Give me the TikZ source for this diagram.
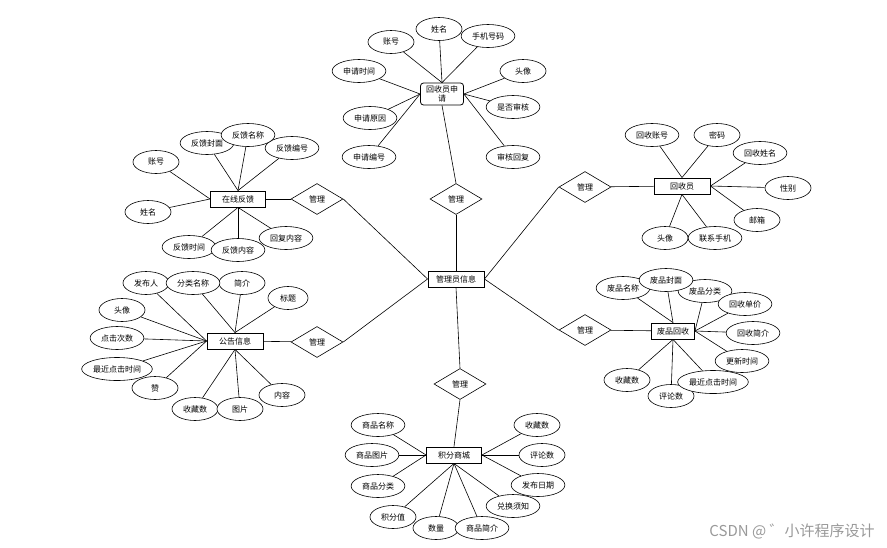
\documentclass[tikz,border=0pt]{standalone}
\usepackage{fontspec}
\newfontfamily\cjk{Noto Sans CJK SC}
\usetikzlibrary{shapes.geometric}

\begin{document}
\begin{tikzpicture}[
    x=1pt, y=-1pt,
    link/.style={draw=black, line width=0.6pt},
    base/.style={
        font=\cjk\fontsize{8pt}{9.6pt}\selectfont,
        align=center,
        fill=white,
        draw=black
    },
    entity/.style={base, rectangle, minimum width=56pt, minimum height=16pt, inner sep=1pt, line width=0.9pt},
    apply/.style={base, rectangle, rounded corners=3pt, minimum width=43pt, minimum height=22pt, inner sep=1pt, line width=0.8pt},
    attr/.style={base, ellipse, minimum width=46pt, minimum height=23pt, inner xsep=3pt, inner ysep=0pt, line width=0.6pt},
    relation/.style={base, diamond, minimum width=52pt, minimum height=31pt, inner sep=0pt, line width=0.6pt}
]
\useasboundingbox (0,0) rectangle (887,547);

\node[entity] (admin) at (456,279) {管理员信息};

\node[relation] (mTop) at (456,199) {管理};
\node[relation] (mFb) at (317,199) {管理};
\node[relation] (mNt) at (317,342) {管理};
\node[relation] (mRc) at (585,187) {管理};
\node[relation] (mWs) at (585,330) {管理};
\node[relation] (mMall) at (460,384) {管理};

\node[apply] (apply) at (442,94) {回收员申\\请};
\node[entity, minimum width=55pt] (fb) at (238,199) {在线反馈};
\node[entity] (rec) at (682,186) {回收员};
\node[entity] (notice) at (235,341) {公告信息};
\node[entity, minimum width=43pt] (waste) at (673,331) {废品回收};
\node[entity, minimum width=55pt] (mall) at (454,455) {积分商城};

\node[attr] (a1) at (391,42) {账号};
\node[attr] (a2) at (439,29) {姓名};
\node[attr] (a3) at (488,36) {手机号码};
\node[attr] (a4) at (359,71) {申请时间};
\node[attr] (a5) at (523,71) {头像};
\node[attr] (a6) at (513,107) {是否审核};
\node[attr] (a7) at (370,118) {申请原因};
\node[attr] (a8) at (513,157) {审核回复};
\node[attr] (a9) at (369,157) {申请编号};

\node[attr] (f1) at (207,143) {反馈封面};
\node[attr] (f3) at (292,148) {反馈编号};
\node[attr] (f2) at (248,135) {反馈名称};
\node[attr] (f4) at (156,162) {账号};
\node[attr] (f5) at (148,212) {姓名};
\node[attr] (f6) at (189,247) {反馈时间};
\node[attr] (f8) at (286,238) {回复内容};
\node[attr] (f7) at (238,250) {反馈内容};

\node[attr] (r1) at (652,135) {回收账号};
\node[attr] (r2) at (717,135) {密码};
\node[attr] (r3) at (760,153) {回收姓名};
\node[attr] (r4) at (788,188) {性别};
\node[attr] (r5) at (757,220) {邮箱};
\node[attr] (r6) at (665,238) {头像};
\node[attr] (r7) at (715,238) {联系手机};

\node[attr] (n1) at (146,283) {发布人};
\node[attr] (n3) at (242,283) {简介};
\node[attr] (n2) at (193,283) {分类名称};
\node[attr, minimum width=40pt] (n4) at (288,298) {标题};
\node[attr] (n5) at (122,310) {头像};
\node[attr] (n6) at (117,338) {点击次数};
\node[attr, inner xsep=1pt] (n7) at (117,369) {最近点击时间};
\node[attr] (n8) at (155,388) {赞};
\node[attr] (n9) at (195,409) {收藏数};
\node[attr] (n10) at (240,409) {图片};
\node[attr] (n11) at (282,395) {内容};

\node[attr] (w1) at (623,288) {废品名称};
\node[attr] (w3) at (705,291) {废品分类};
\node[attr] (w2) at (666,280) {废品封面};
\node[attr] (w4) at (745,304) {回收单价};
\node[attr] (w5) at (753,333) {回收简介};
\node[attr] (w6) at (742,361) {更新时间};
\node[attr] (w8) at (627,380) {收藏数};
\node[attr] (w9) at (671,396) {评论数};
\node[attr, inner xsep=1pt] (w7) at (713,382) {最近点击时间};

\node[attr] (s1) at (378,425) {商品名称};
\node[attr] (s2) at (372,455) {商品图片};
\node[attr] (s3) at (378,486) {商品分类};
\node[attr] (s4) at (393,517) {积分值};
\node[attr] (s5) at (436,528) {数量};
\node[attr] (s6) at (482,528) {商品简介};
\node[attr] (s7) at (513,506) {兑换须知};
\node[attr] (s8) at (538,485) {发布日期};
\node[attr] (s9) at (542,455) {评论数};
\node[attr] (s10) at (537,425) {收藏数};

\node[text=black!40, font=\cjk\fontsize{15pt}{17pt}\selectfont] (mark) at (792,531) {CSDN @ ゛小许程序设计};

\draw[link] (apply.south) -- (mTop.north);
\draw[link] (mTop.south) -- (admin.north);
\draw[link] (fb) -- (mFb);
\draw[link] (mFb.east) -- (admin.west);
\draw[link] (notice) -- (mNt);
\draw[link] (mNt.east) -- (admin.west);
\draw[link] (mRc) -- (rec);
\draw[link] (mRc.west) -- (admin.east);
\draw[link] (mWs) -- (waste);
\draw[link] (mWs.west) -- (admin.east);
\draw[link] (mMall.north) -- (admin.south);
\draw[link] (mMall.south) -- (mall.north);

\draw[link] (a1) -- (apply.north);
\draw[link] (a2) -- (apply.north);
\draw[link] (a3) -- (apply.north);
\draw[link] (a4) -- (apply.west);
\draw[link] (a7) -- (apply.west);
\draw[link] (a9) -- (apply.west);
\draw[link] (a5) -- (apply.east);
\draw[link] (a6) -- (apply.east);
\draw[link] (a8) -- (apply.east);

\draw[link] (f1) -- (fb.north);
\draw[link] (f2) -- (fb.north);
\draw[link] (f3) -- (fb.north);
\draw[link] (f4) -- (fb.west);
\draw[link] (f5) -- (fb.west);
\draw[link] (f6) -- (fb.south);
\draw[link] (f7) -- (fb.south);
\draw[link] (f8) -- (fb.south);

\draw[link] (r1) -- (rec.north);
\draw[link] (r2) -- (rec.north);
\draw[link] (r3) -- (rec.east);
\draw[link] (r4) -- (rec.east);
\draw[link] (r5) -- (rec.east);
\draw[link] (r6) -- (rec.south);
\draw[link] (r7) -- (rec.south);

\draw[link] (n1) -- (notice.west);
\draw[link] (n5) -- (notice.west);
\draw[link] (n6) -- (notice.west);
\draw[link] (n7) -- (notice.west);
\draw[link] (n8) -- (notice.west);
\draw[link] (n2) -- (notice.north);
\draw[link] (n3) -- (notice.north);
\draw[link] (n4) -- (notice.north);
\draw[link] (n9) -- (notice.south);
\draw[link] (n10) -- (notice.south);
\draw[link] (n11) -- (notice.south);

\draw[link] (w1) -- (waste.north);
\draw[link] (w2) -- (waste.north);
\draw[link] (w3) -- (waste.east);
\draw[link] (w4) -- (waste.east);
\draw[link] (w5) -- (waste.east);
\draw[link] (w6) -- (waste.east);
\draw[link] (w7) -- (waste.south);
\draw[link] (w8) -- (waste.south);
\draw[link] (w9) -- (waste.south);

\draw[link] (s1) -- (mall.west);
\draw[link] (s2) -- (mall.west);
\draw[link] (s3) -- (mall.west);
\draw[link] (s4) -- (mall.south);
\draw[link] (s5) -- (mall.south);
\draw[link] (s6) -- (mall.south);
\draw[link] (s7) -- (mall.south);
\draw[link] (s8) -- (mall.east);
\draw[link] (s9) -- (mall.east);
\draw[link] (s10) -- (mall.east);

\end{tikzpicture}
\end{document}
